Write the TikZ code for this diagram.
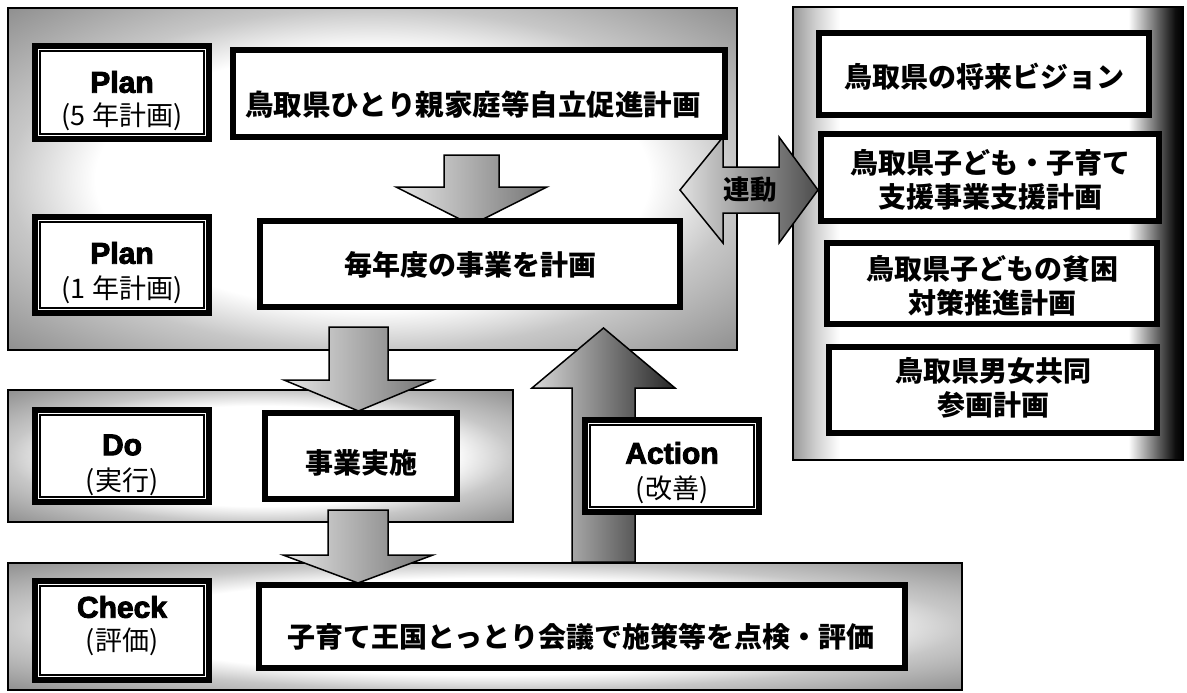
\documentclass[tikz,border=0pt]{standalone}
\usepackage{fontspec}
\newfontfamily\jp{Noto Sans CJK JP}
\newfontfamily\blk{Liberation Sans Bold}[FakeBold=3]
\pgfdeclareradialshading{panelshade}{\pgfpoint{0bp}{0bp}}{color(0bp)=(white); color(19bp)=(white); color(25bp)=(black!22); color(36bp)=(black!45); color(50bp)=(black!45)}
\pgfdeclarehorizontalshading{rightshade}{100bp}{color(0bp)=(black!40); color(25bp)=(black!40); color(28bp)=(black!18); color(31bp)=(white); color(68bp)=(white); color(72bp)=(black!65); color(74bp)=(black!95); color(75bp)=(black); color(100bp)=(black)}
\begin{document}
\begin{tikzpicture}[x=1pt,y=-1pt,
  panel/.style={draw=black, line width=1.5pt},
  mainbox/.style={draw=black, line width=6pt, fill=white, inner sep=0pt},
  lblbox/.style={draw=black, line width=6pt, fill=white, minimum width=174pt, inner sep=0pt},
  blockarrow/.style={draw=black, line width=1.5pt, line join=miter},
  jtext/.style={font=\jp\bfseries\fontsize{28}{34}\selectfont, align=center, inner sep=0pt},
  jbold/.style={font=\jp\bfseries\fontsize{28.5}{34}\selectfont, inner sep=0pt},
  ltitle/.style={font=\blk\fontsize{30}{30}\selectfont, inner sep=0pt},
  lsub/.style={font=\jp\fontsize{27}{27}\selectfont, inner sep=0pt}]
\useasboundingbox (0,0) rectangle (1187,693);
\fill[white] (0,0) rectangle (1187,693);

% panels
\shade[shading=panelshade] (8,8) rectangle (737,350);
\draw[panel] (8,8) rectangle (737,350);
\shade[shading=panelshade] (8,390) rectangle (513,522);
\draw[panel] (8,390) rectangle (513,522);
\shade[shading=panelshade] (8,563) rectangle (962,690);
\draw[panel] (8,563) rectangle (962,690);
\shade[shading=rightshade] (793,7) rectangle (1183,460);
\draw[panel] (793,7) rectangle (1183,460);

% block arrows
\shadedraw[blockarrow, left color=black!10, right color=black!55]
  (444,155) -- (499,155) -- (499,187) -- (547,187) -- (471.5,225) -- (396,187) -- (444,187) -- cycle;
\shadedraw[blockarrow, left color=black!10, right color=black!55]
  (329,327) -- (388,327) -- (388,380) -- (433,380) -- (358.5,411) -- (284,380) -- (329,380) -- cycle;
\shadedraw[blockarrow, left color=black!10, right color=black!55]
  (328,510) -- (388,510) -- (388,555) -- (433,555) -- (358,583) -- (283,555) -- (328,555) -- cycle;
\shadedraw[blockarrow, left color=black!15, right color=black!85]
  (603.5,328) -- (675,388) -- (635,388) -- (635,562) -- (572,562) -- (572,388) -- (532,388) -- cycle;
\shadedraw[blockarrow, left color=black!12, right color=black!70]
  (680,190) -- (723,137) -- (723,167) -- (779,167) -- (779,137) -- (818,190) -- (779,243) -- (779,213) -- (723,213) -- (723,243) -- cycle;
\node[font=\jp\bfseries\fontsize{26.5}{26.5}\selectfont, inner sep=0pt] (rendo) at (750,190) {連動};

% main boxes
\node[mainbox, minimum width=492pt, minimum height=87pt] (b1) at (479,93.5) {};
\node[jbold] (b1t) at (473,105) {鳥取県ひとり親家庭等自立促進計画};
\node[mainbox, minimum width=420pt, minimum height=86pt] (b2) at (470,264) {};
\node[jtext] (b2t) at (470,265) {毎年度の事業を計画};
\node[mainbox, minimum width=192pt, minimum height=86pt] (bdo) at (361,456) {};
\node[jtext] (bdot) at (361,463) {事業実施};
\node[mainbox, minimum width=646pt, minimum height=83pt] (bchk) at (582,626.5) {};
\node[jtext] (bchkt) at (581,637) {子育て王国とっとり会議で施策等を点検・評価};

% right boxes
\node[mainbox, minimum width=330pt, minimum height=82pt] (r1) at (984,74) {};
\node[jtext] (r1t) at (984,77) {鳥取県の将来ビジョン};
\node[mainbox, minimum width=338pt, minimum height=87pt] (r2) at (990,177.5) {};
\node[jtext] (r2t) at (990,180) {鳥取県子ども・子育て\\支援事業支援計画};
\node[mainbox, minimum width=330pt, minimum height=81pt] (r3) at (992,283.5) {};
\node[jtext] (r3t) at (992,285.5) {鳥取県子どもの貧困\\対策推進計画};
\node[mainbox, minimum width=328pt, minimum height=86pt] (r4) at (993,390) {};
\node[jtext] (r4t) at (993,387.5) {鳥取県男女共同\\参画計画};

% label boxes
\node[lblbox, minimum height=93pt] (l1) at (122,92.5) {};
\node[lblbox, minimum height=96pt] (l2) at (122,265) {};
\node[lblbox, minimum height=92pt] (l3) at (122,456) {};
\node[lblbox, minimum height=99pt] (l4) at (122,630.5) {};
\node[lblbox, minimum height=92pt] (l5) at (672,466) {};
\foreach \n in {l1,l2,l3,l4,l5}
  \draw[line width=1.6pt] ([shift={(8,8)}]\n.north west) rectangle ([shift={(-8,-8)}]\n.south east);

\node[ltitle] (l1a) at (122,82) {Plan};
\node[lsub] (l1b) at (122,117) {(5 年計画)};
\node[ltitle] (l2a) at (122,253) {Plan};
\node[lsub] (l2b) at (122,290) {(1 年計画)};
\node[ltitle] (l3a) at (122,445) {Do};
\node[lsub] (l3b) at (122,482) {(実行)};
\node[ltitle] (l4a) at (122,607) {Check};
\node[lsub] (l4b) at (122,642) {(評価)};
\node[ltitle] (l5a) at (672,453) {Action};
\node[lsub] (l5b) at (672,490) {(改善)};
\end{tikzpicture}
\end{document}
